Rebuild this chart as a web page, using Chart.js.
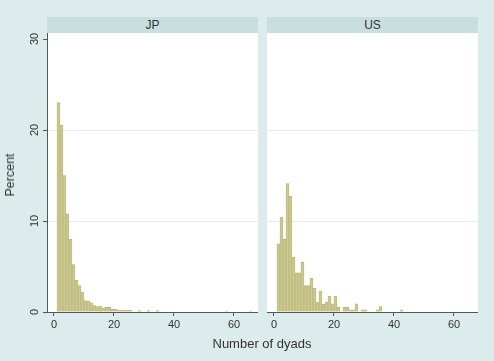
<!DOCTYPE html>
<html>
<head>
<meta charset="utf-8">
<script src="https://cdn.jsdelivr.net/npm/chart.js@4"></script>
<style>
  html, body { margin: 0; padding: 0; }
  body { width: 494px; height: 361px; background: #dcebeb; position: relative; overflow: hidden;
         font-family: "Liberation Sans", Arial, sans-serif; color: #333; }
  .strip { position: absolute; top: 17px; height: 16px; background: #c8dfe0; font-size: 12px;
           line-height: 16px; text-align: center; color: #333; }
  .plot { position: absolute; }
  #ytitle { position: absolute; left: 10px; top: 175px; font-size: 12.5px; color: #333;
            transform: translate(-50%, -50%) rotate(-90deg); white-space: nowrap; }
  #xtitle { position: absolute; left: 262px; top: 343px; font-size: 13px; color: #333;
            transform: translate(-50%, -50%); white-space: nowrap; }
</style>
</head>
<body>
<div class="strip" style="left:47px;width:211px;">JP</div>
<div class="strip" style="left:267px;width:211px;">US</div>
<div class="plot" style="left:0;top:33px;width:258px;height:328px;"><canvas id="jp"></canvas></div>
<div class="plot" style="left:267px;top:33px;width:211px;height:328px;"><canvas id="us"></canvas></div>
<div id="ytitle">Percent</div>
<div id="xtitle">Number of dyads</div>
<script>
// histogram bins of width 1, first bin starts at 1
var binStart = 1;
var jpPct = [23.0, 20.5, 15.0, 10.8, 8.0, 5.2, 3.5, 2.9, 2.2, 1.25,
             1.2, 1.0, 0.7, 0.6, 0.65, 0.45, 0.5, 0.5, 0.3, 0.3,
             0.2, 0.2, 0.2, 0.2, 0.2, 0, 0, 0.15, 0, 0,
             0.15, 0, 0, 0.15, 0, 0, 0, 0, 0, 0,
             0, 0, 0, 0, 0, 0, 0, 0, 0, 0,
             0, 0, 0, 0, 0, 0, 0.1, 0, 0, 0,
             0, 0, 0, 0, 0.1];
var usPct = [7.5, 10.4, 8.0, 14.1, 12.7, 6.0, 4.3, 4.3, 5.45, 2.9,
             2.9, 3.7, 2.6, 1.1, 2.3, 0.85, 1.1, 1.75, 0.9, 1.75,
             0.5, 0, 0.5, 0.5, 0.25, 0.25, 0.9, 0, 0.25, 0.25,
             0, 0, 0, 0.25, 0.6, 0, 0, 0, 0, 0,
             0, 0.25];
var xTicks = [0, 20, 40, 60];
var yTicks = [0, 10, 20, 30];

function toPoints(arr) {
  return arr.map(function(v, i) { return { x: binStart + i + 0.5, y: v }; });
}

var yLabelPlugin = {
  id: 'yLabels',
  afterDraw: function(chart) {
    if (!chart.options.plugins.yLabels.show) { return }
    var ctx = chart.ctx, scale = chart.scales.y;
    ctx.save();
    ctx.fillStyle = '#333';
    ctx.font = '11px "Liberation Sans", Arial, sans-serif';
    ctx.textAlign = 'center';
    ctx.textBaseline = 'middle';
    yTicks.forEach(function(v) {
      ctx.save();
      ctx.translate(35, scale.getPixelForValue(v));
      ctx.rotate(-Math.PI / 2);
      ctx.fillText(String(v), 0, 0);
      ctx.restore();
    });
    ctx.restore();
  }
};

function makeChart(id, values, showY) {
  var axisColor = '#555';
  return new Chart(document.getElementById(id), {
    type: 'bar',
    data: {
      datasets: [{
        data: toPoints(values),
        backgroundColor: '#cdca91',
        borderColor: '#b9b47a',
        borderWidth: 0.8,
        barPercentage: 1,
        categoryPercentage: 1
      }]
    },
    plugins: [yLabelPlugin],
    options: {
      responsive: true,
      maintainAspectRatio: false,
      animation: false,
      layout: { padding: 0 },
      plugins: { legend: { display: false }, tooltip: { enabled: false }, yLabels: { show: showY } },
      scales: {
        x: {
          type: 'linear', min: -2.33, max: 68, offset: false,
          afterBuildTicks: function(s) { s.ticks = xTicks.map(function(v) { return { value: v }; }); },
          afterFit: function(s) { s.height = 49; },
          grid: { offset: false, drawOnChartArea: false, drawTicks: true, tickLength: 4, tickColor: axisColor },
          border: { display: true, color: axisColor, width: 1 },
          ticks: { color: '#333', padding: 2, maxRotation: 0, font: { size: 11, family: '"Liberation Sans", Arial, sans-serif' } }
        },
        y: {
          min: 0, max: 30.66,
          afterBuildTicks: function(s) { s.ticks = yTicks.map(function(v) { return { value: v }; }); },
          afterFit: function(s) { s.width = showY ? 47 : 0; },
          grid: {
            drawTicks: showY, tickLength: 4, tickColor: axisColor,
            color: function(c) { return (c.tick && (c.tick.value === 10 || c.tick.value === 20)) ? '#e3eded' : 'rgba(0,0,0,0)'; }
          },
          border: { display: showY, color: axisColor, width: 1 },
          ticks: { display: false }
        }
      }
    }
  });
}

// white plot background
Chart.register({
  id: 'whiteBg',
  beforeDraw: function(chart) {
    var a = chart.chartArea, ctx = chart.ctx;
    ctx.save();
    ctx.fillStyle = '#ffffff';
    ctx.fillRect(a.left, a.top, a.right - a.left, a.bottom - a.top);
    ctx.restore();
  }
});

makeChart('jp', jpPct, true);
makeChart('us', usPct, false);
</script>
</body>
</html>
